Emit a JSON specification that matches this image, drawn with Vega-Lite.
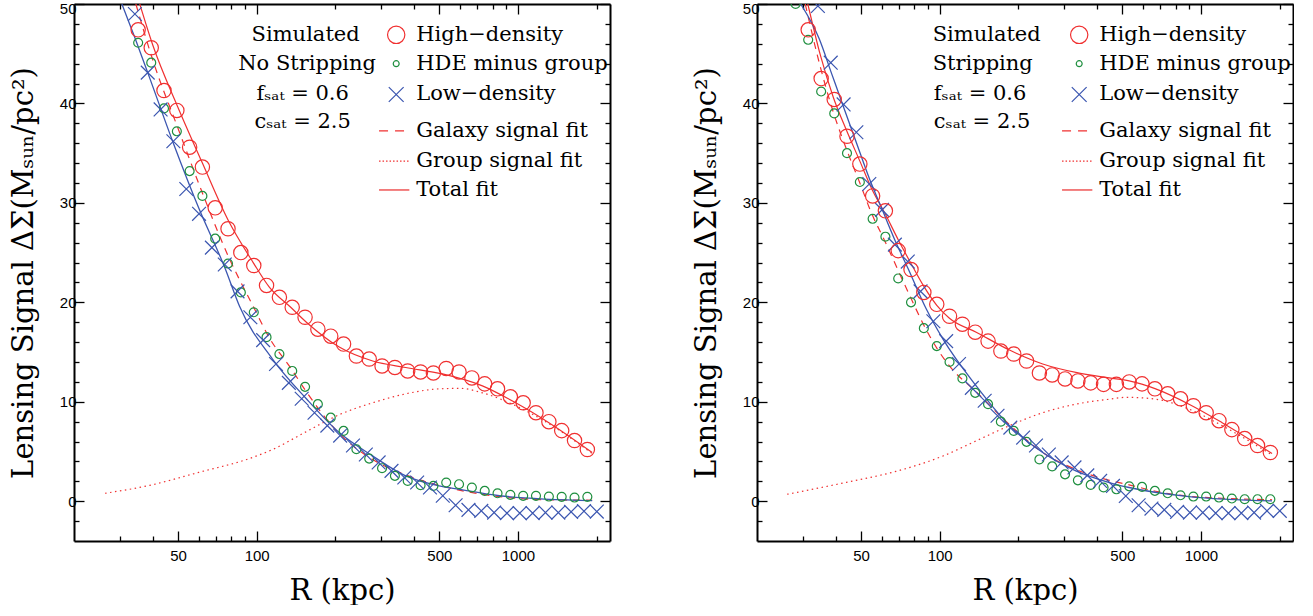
{
"$schema":"https://vega.github.io/schema/vega-lite/v6.json",
"padding":{"left":9,"top":1,"right":0,"bottom":0},
"background":"white",
"spacing":81,
"config":{"view":{"stroke":null},
"axis":{"domainColor":"black","domainWidth":2,"tickColor":"black","tickWidth":1.3,"grid":false,"labelFont":"Liberation Sans","labelFontSize":15,"labelColor":"black","titleFont":"DejaVu Serif","titleFontSize":29,"titleFontWeight":"normal","titleColor":"black","labelOverlap":false,"labelFlush":false,"labelBound":false},
"text":{"font":"DejaVu Serif","fontSize":21,"color":"black"}},
"datasets":{
"a_high":[{"r":35.2,"ds":47.4},{"r":39.5,"ds":45.6},{"r":44.2,"ds":41.3},{"r":49.5,"ds":39.3},{"r":55.4,"ds":35.6},{"r":62.0,"ds":33.6},{"r":69.4,"ds":29.5},{"r":77.7,"ds":27.4},{"r":87.0,"ds":25.0},{"r":97.5,"ds":23.7},{"r":109.1,"ds":21.7},{"r":122.2,"ds":20.5},{"r":136.8,"ds":19.5},{"r":153.2,"ds":18.5},{"r":171.5,"ds":17.3},{"r":192.1,"ds":16.6},{"r":215.1,"ds":15.8},{"r":240.8,"ds":14.6},{"r":269.6,"ds":14.3},{"r":301.9,"ds":13.6},{"r":338.1,"ds":13.45},{"r":378.5,"ds":13.1},{"r":423.9,"ds":13.0},{"r":474.6,"ds":12.9},{"r":531.4,"ds":13.35},{"r":595.0,"ds":13.0},{"r":666.2,"ds":12.4},{"r":745.9,"ds":11.8},{"r":835.2,"ds":11.3},{"r":935.2,"ds":10.5},{"r":1047,"ds":9.9},{"r":1172,"ds":8.9},{"r":1313,"ds":8.0},{"r":1470,"ds":7.1},{"r":1646,"ds":6.1},{"r":1843,"ds":5.2}],
"a_hde":[{"r":35.2,"ds":46.1},{"r":39.5,"ds":44.1},{"r":44.2,"ds":39.5},{"r":49.5,"ds":37.2},{"r":55.4,"ds":33.2},{"r":62.0,"ds":30.7},{"r":69.4,"ds":26.4},{"r":77.7,"ds":23.9},{"r":87.0,"ds":21.0},{"r":97.5,"ds":19.0},{"r":109.1,"ds":16.5},{"r":122.2,"ds":14.8},{"r":136.8,"ds":13.1},{"r":153.2,"ds":11.5},{"r":171.5,"ds":9.76},{"r":192.1,"ds":8.4},{"r":215.1,"ds":7.07},{"r":240.8,"ds":5.23},{"r":269.6,"ds":4.29},{"r":301.9,"ds":3.32},{"r":338.1,"ds":2.55},{"r":378.5,"ds":2.04},{"r":423.9,"ds":1.61},{"r":474.6,"ds":1.54},{"r":531.4,"ds":1.88},{"r":595.0,"ds":1.71},{"r":666.2,"ds":1.38},{"r":745.9,"ds":1.04},{"r":835.2,"ds":0.8},{"r":935.2,"ds":0.64},{"r":1047,"ds":0.54},{"r":1172,"ds":0.54},{"r":1313,"ds":0.47},{"r":1470,"ds":0.44},{"r":1646,"ds":0.37},{"r":1843,"ds":0.44}],
"a_low":[{"r":34.2,"ds":49.0},{"r":38.3,"ds":43.1},{"r":42.9,"ds":39.4},{"r":48.0,"ds":36.2},{"r":53.8,"ds":31.4},{"r":60.2,"ds":28.9},{"r":67.4,"ds":25.5},{"r":75.5,"ds":23.8},{"r":84.5,"ds":21.1},{"r":94.6,"ds":18.5},{"r":105.9,"ds":16.2},{"r":118.6,"ds":13.8},{"r":132.8,"ds":11.9},{"r":148.7,"ds":10.3},{"r":166.5,"ds":8.9},{"r":186.4,"ds":7.6},{"r":208.7,"ds":6.6},{"r":233.7,"ds":5.6},{"r":261.7,"ds":4.7},{"r":293.0,"ds":3.9},{"r":328.1,"ds":3.05},{"r":367.3,"ds":2.38},{"r":411.3,"ds":1.88},{"r":460.5,"ds":1.38},{"r":515.6,"ds":0.55},{"r":577.3,"ds":-0.4},{"r":646.4,"ds":-0.87},{"r":723.8,"ds":-0.97},{"r":810.4,"ds":-1.14},{"r":907.4,"ds":-1.2},{"r":1016,"ds":-1.2},{"r":1138,"ds":-1.2},{"r":1274,"ds":-1.14},{"r":1427,"ds":-1.14},{"r":1597,"ds":-1.07},{"r":1789,"ds":-1.0},{"r":2003,"ds":-1.04}],
"b_high":[{"r":31.4,"ds":47.4},{"r":35.2,"ds":42.5},{"r":39.5,"ds":40.4},{"r":44.2,"ds":36.7},{"r":49.5,"ds":33.9},{"r":55.4,"ds":30.7},{"r":62.0,"ds":29.2},{"r":69.4,"ds":25.2},{"r":77.7,"ds":23.3},{"r":87.0,"ds":21.0},{"r":97.5,"ds":19.8},{"r":109.1,"ds":18.6},{"r":122.2,"ds":17.8},{"r":136.8,"ds":17.0},{"r":153.2,"ds":16.1},{"r":171.5,"ds":15.1},{"r":192.1,"ds":14.8},{"r":215.1,"ds":14.1},{"r":240.8,"ds":12.9},{"r":269.6,"ds":12.7},{"r":301.9,"ds":12.3},{"r":338.1,"ds":12.1},{"r":378.5,"ds":11.9},{"r":423.9,"ds":11.75},{"r":474.6,"ds":11.75},{"r":531.4,"ds":12.0},{"r":595.0,"ds":11.8},{"r":666.2,"ds":11.3},{"r":745.9,"ds":10.8},{"r":835.2,"ds":10.3},{"r":935.2,"ds":9.6},{"r":1047,"ds":8.9},{"r":1172,"ds":8.1},{"r":1313,"ds":7.2},{"r":1470,"ds":6.3},{"r":1646,"ds":5.6},{"r":1843,"ds":4.9}],
"b_hde":[{"r":28.1,"ds":50.0},{"r":31.4,"ds":46.4},{"r":35.2,"ds":41.2},{"r":39.5,"ds":39.0},{"r":44.2,"ds":35.0},{"r":49.5,"ds":32.1},{"r":55.4,"ds":28.4},{"r":62.0,"ds":26.6},{"r":69.4,"ds":22.4},{"r":77.7,"ds":20.0},{"r":87.0,"ds":17.4},{"r":97.5,"ds":15.6},{"r":109.1,"ds":14.0},{"r":122.2,"ds":12.35},{"r":136.8,"ds":10.9},{"r":153.2,"ds":9.76},{"r":171.5,"ds":8.0},{"r":192.1,"ds":7.07},{"r":215.1,"ds":5.97},{"r":240.8,"ds":4.2},{"r":269.6,"ds":3.5},{"r":301.9,"ds":2.7},{"r":338.1,"ds":2.1},{"r":378.5,"ds":1.64},{"r":423.9,"ds":1.38},{"r":474.6,"ds":1.2},{"r":531.4,"ds":1.5},{"r":595.0,"ds":1.44},{"r":666.2,"ds":1.04},{"r":745.9,"ds":0.8},{"r":835.2,"ds":0.6},{"r":935.2,"ds":0.47},{"r":1047,"ds":0.47},{"r":1172,"ds":0.37},{"r":1313,"ds":0.27},{"r":1470,"ds":0.2},{"r":1646,"ds":0.2},{"r":1843,"ds":0.2}],
"b_low":[{"r":34.2,"ds":49.8},{"r":38.3,"ds":44.1},{"r":42.9,"ds":39.9},{"r":48.0,"ds":37.1},{"r":53.8,"ds":31.9},{"r":60.2,"ds":29.3},{"r":67.4,"ds":25.8},{"r":75.5,"ds":24.1},{"r":84.5,"ds":21.1},{"r":94.6,"ds":18.1},{"r":105.9,"ds":16.1},{"r":118.6,"ds":13.8},{"r":132.8,"ds":11.4},{"r":148.7,"ds":10.1},{"r":166.5,"ds":8.6},{"r":186.4,"ds":7.4},{"r":208.7,"ds":6.4},{"r":233.7,"ds":5.6},{"r":261.7,"ds":4.7},{"r":293.0,"ds":3.9},{"r":328.1,"ds":3.4},{"r":367.3,"ds":2.6},{"r":411.3,"ds":2.04},{"r":460.5,"ds":1.54},{"r":515.6,"ds":0.53},{"r":577.3,"ds":-0.4},{"r":646.4,"ds":-0.74},{"r":723.8,"ds":-0.87},{"r":810.4,"ds":-1.07},{"r":907.4,"ds":-1.14},{"r":1016,"ds":-1.14},{"r":1138,"ds":-1.2},{"r":1274,"ds":-1.2},{"r":1427,"ds":-1.2},{"r":1597,"ds":-1.14},{"r":1789,"ds":-0.97},{"r":2003,"ds":-0.97}],
"a_total":[{"r":35.7,"ds":50},{"r":40,"ds":45.9},{"r":50,"ds":39.6},{"r":62,"ds":34.0},{"r":78,"ds":28.2},{"r":97,"ds":24.0},{"r":112,"ds":21.5},{"r":135,"ds":19.5},{"r":155,"ds":18.0},{"r":207,"ds":15.5},{"r":278,"ds":14.1},{"r":372,"ds":13.45},{"r":514,"ds":12.8},{"r":731,"ds":11.6},{"r":980,"ds":9.9},{"r":1313,"ds":7.9},{"r":1923,"ds":4.9}],
"a_galaxy":[{"r":34.5,"ds":50},{"r":40,"ds":44.4},{"r":50,"ds":37.5},{"r":62,"ds":31.0},{"r":78,"ds":24.6},{"r":97,"ds":19.6},{"r":112,"ds":16.4},{"r":135,"ds":13.4},{"r":155,"ds":11.0},{"r":207,"ds":6.8},{"r":278,"ds":4.2},{"r":372,"ds":2.65},{"r":514,"ds":1.5},{"r":731,"ds":0.7},{"r":980,"ds":0.3},{"r":1313,"ds":0.15},{"r":1923,"ds":0.1}],
"a_group":[{"r":26.3,"ds":0.8},{"r":39,"ds":1.6},{"r":60,"ds":2.9},{"r":94,"ds":4.3},{"r":115,"ds":5.2},{"r":155,"ds":7.0},{"r":207,"ds":8.7},{"r":278,"ds":9.9},{"r":372,"ds":10.8},{"r":500,"ds":11.3},{"r":600,"ds":11.35},{"r":731,"ds":10.9},{"r":980,"ds":9.6},{"r":1313,"ds":7.8},{"r":1923,"ds":4.8}],
"a_lowfit":[{"r":30.5,"ds":50},{"r":34.2,"ds":46.6},{"r":38.3,"ds":43.1},{"r":48,"ds":36.0},{"r":60.2,"ds":29.4},{"r":75.5,"ds":23.5},{"r":86,"ds":19.6},{"r":115,"ds":14.3},{"r":155,"ds":10.3},{"r":207,"ds":6.9},{"r":278,"ds":4.55},{"r":372,"ds":2.55},{"r":499,"ds":1.55},{"r":596,"ds":1.2},{"r":850,"ds":0.55},{"r":1923,"ds":0.05}],
"b_total":[{"r":31.3,"ds":50},{"r":35,"ds":44.8},{"r":39.2,"ds":40.6},{"r":44,"ds":37.3},{"r":49.5,"ds":34.2},{"r":55,"ds":31.4},{"r":61.6,"ds":29.0},{"r":69.4,"ds":26.3},{"r":77.7,"ds":23.9},{"r":87,"ds":21.6},{"r":97.5,"ds":19.7},{"r":109,"ds":18.4},{"r":138,"ds":17.0},{"r":185,"ds":15.2},{"r":248,"ds":13.8},{"r":332,"ds":12.95},{"r":446,"ds":12.4},{"r":531,"ds":12.1},{"r":671,"ds":11.3},{"r":900,"ds":9.76},{"r":1205,"ds":7.9},{"r":1871,"ds":4.8}],
"b_galaxy":[{"r":30.6,"ds":50},{"r":35,"ds":43.6},{"r":39.2,"ds":39.1},{"r":44,"ds":35.4},{"r":49.5,"ds":32.0},{"r":55,"ds":28.9},{"r":61.6,"ds":26.2},{"r":69.4,"ds":23.2},{"r":77.7,"ds":20.4},{"r":87,"ds":17.7},{"r":97.5,"ds":15.4},{"r":109,"ds":13.6},{"r":138,"ds":11.0},{"r":185,"ds":7.7},{"r":248,"ds":4.9},{"r":332,"ds":3.2},{"r":446,"ds":2.1},{"r":531,"ds":1.65},{"r":671,"ds":1.0},{"r":900,"ds":0.5},{"r":1205,"ds":0.3},{"r":1871,"ds":0.15}],
"b_group":[{"r":26.1,"ds":0.7},{"r":44,"ds":1.9},{"r":68,"ds":3.0},{"r":103,"ds":4.55},{"r":138,"ds":6.07},{"r":185,"ds":7.6},{"r":248,"ds":8.9},{"r":332,"ds":9.76},{"r":446,"ds":10.26},{"r":520,"ds":10.45},{"r":671,"ds":10.26},{"r":900,"ds":9.26},{"r":1205,"ds":7.6},{"r":1871,"ds":4.65}],
"b_lowfit":[{"r":29.4,"ds":50},{"r":34.6,"ds":46.5},{"r":38.6,"ds":43.0},{"r":42.8,"ds":39.7},{"r":48.1,"ds":36.0},{"r":54.1,"ds":32.3},{"r":59.9,"ds":29.5},{"r":67.3,"ds":26.3},{"r":75.7,"ds":23.4},{"r":89,"ds":19.3},{"r":103,"ds":16.3},{"r":138,"ds":11.6},{"r":185,"ds":7.6},{"r":248,"ds":4.9},{"r":332,"ds":3.05},{"r":446,"ds":1.88},{"r":531,"ds":1.38},{"r":900,"ds":0.47},{"r":1870,"ds":0.03}],
"lg_high":[{"r":342,"ds":46.9}],
"lg_hde":[{"r":342,"ds":44.0}],
"lg_low":[{"r":342,"ds":40.9}],
"lg_galaxy":[{"r":294,"ds":37.25},{"r":384,"ds":37.25}],
"lg_group":[{"r":294,"ds":34.2},{"r":384,"ds":34.2}],
"lg_total":[{"r":294,"ds":31.3},{"r":384,"ds":31.3}],
"lg_text":[{"t":"High−density","r":408,"ds":46.9},{"t":"HDE minus group","r":408,"ds":44.0},{"t":"Low−density","r":408,"ds":40.9},{"t":"Galaxy signal fit","r":408,"ds":37.25},{"t":"Group signal fit","r":408,"ds":34.2},{"t":"Total fit","r":408,"ds":31.3}],
"side_a":[{"t":"Simulated","r":154,"ds":46.9},{"t":"No Stripping","r":156,"ds":44.0},{"t":"fₛₐₜ = 0.6","r":150,"ds":40.9},{"t":"cₛₐₜ = 2.5","r":150,"ds":38.1}],
"side_b":[{"t":"Simulated","r":94,"ds":46.9},{"t":"Stripping","r":94,"ds":44.0},{"t":"fₛₐₜ = 0.6","r":95,"ds":40.9},{"t":"cₛₐₜ = 2.5","r":95,"ds":38.1}]
},
"hconcat":[
{"width":536,"height":537,
"resolve":{"axis":{"x":"independent","y":"independent"}},
"layer":[
{"mark":{"type":"rule","color":"black","strokeWidth":1.5},
"encoding":{"x":{"datum":20,"type":"quantitative","scale":{"type":"log","domain":[20,2250],"nice":false},"axis":{"orient":"bottom","values":[30,40,50,60,70,80,90,100,200,300,400,500,600,700,800,900,1000,2000],"format":"d","labelExpr":"datum.value==50||datum.value==100||datum.value==500||datum.value==1000 ? datum.label : ''","tickSize":{"condition":{"test":"datum.value==50||datum.value==100||datum.value==500||datum.value==1000","value":-10},"value":-5},"labelPadding":17,"title":"R (kpc)","titlePadding":8}},
"x2":{"datum":2250},
"y":{"datum":0,"type":"quantitative","scale":{"domain":[-4,50],"nice":false,"zero":false},"axis":{"orient":"left","values":[-2,0,2,4,6,8,10,12,14,16,18,20,22,24,26,28,30,32,34,36,38,40,42,44,46,48,50],"labelExpr":"datum.value % 10 === 0 ? datum.label : ''","labelOffset":{"condition":{"test":"datum.value === 50","value":4},"value":0},"tickSize":{"condition":{"test":"datum.value % 10 === 0","value":-10},"value":-5},"labelPadding":8,"title":"Lensing Signal ΔΣ(Mₛᵤₙ/pc²)","titlePadding":21}}}},
{"mark":{"type":"rule","color":"black","strokeWidth":1.5},
"encoding":{"x":{"datum":20,"type":"quantitative","scale":{"type":"log","domain":[20,2250],"nice":false},"axis":{"orient":"top","values":[30,40,50,60,70,80,90,100,200,300,400,500,600,700,800,900,1000,2000],"labels":false,"title":null,"tickSize":{"condition":{"test":"datum.value==50||datum.value==100||datum.value==500||datum.value==1000","value":-10},"value":-5}}},
"x2":{"datum":2250},
"y":{"datum":0,"type":"quantitative","scale":{"domain":[-4,50],"nice":false,"zero":false},"axis":{"orient":"right","values":[-2,0,2,4,6,8,10,12,14,16,18,20,22,24,26,28,30,32,34,36,38,40,42,44,46,48,50],"labels":false,"title":null,"tickSize":{"condition":{"test":"datum.value % 10 === 0","value":-10},"value":-5}}}}},
{"data":{"name":"a_group"},"mark":{"type":"line","stroke":"#f03030","strokeWidth":1.2,"strokeDash":[1.5,3.5],"interpolate":"monotone","clip":true},"encoding":{"x":{"field":"r","type":"quantitative","scale":{"type":"log","domain":[20,2250],"nice":false},"axis":null},"y":{"field":"ds","type":"quantitative","scale":{"domain":[-4,50],"nice":false,"zero":false},"axis":null}}},
{"data":{"name":"a_galaxy"},"mark":{"type":"line","stroke":"#f03030","strokeWidth":1.2,"strokeDash":[7,6],"interpolate":"monotone","clip":true},"encoding":{"x":{"field":"r","type":"quantitative","scale":{"type":"log","domain":[20,2250],"nice":false},"axis":null},"y":{"field":"ds","type":"quantitative","scale":{"domain":[-4,50],"nice":false,"zero":false},"axis":null}}},
{"data":{"name":"a_total"},"mark":{"type":"line","stroke":"#f03030","strokeWidth":1.2,"interpolate":"monotone","clip":true},"encoding":{"x":{"field":"r","type":"quantitative","scale":{"type":"log","domain":[20,2250],"nice":false},"axis":null},"y":{"field":"ds","type":"quantitative","scale":{"domain":[-4,50],"nice":false,"zero":false},"axis":null}}},
{"data":{"name":"a_lowfit"},"mark":{"type":"line","stroke":"#3b56b0","strokeWidth":1.3,"interpolate":"monotone","clip":true},"encoding":{"x":{"field":"r","type":"quantitative","scale":{"type":"log","domain":[20,2250],"nice":false},"axis":null},"y":{"field":"ds","type":"quantitative","scale":{"domain":[-4,50],"nice":false,"zero":false},"axis":null}}},
{"data":{"name":"a_hde"},"mark":{"type":"point","shape":"circle","filled":false,"size":80,"stroke":"#1f8f3f","strokeWidth":1.2,"opacity":1,"clip":true},"encoding":{"x":{"field":"r","type":"quantitative","scale":{"type":"log","domain":[20,2250],"nice":false},"axis":null},"y":{"field":"ds","type":"quantitative","scale":{"domain":[-4,50],"nice":false,"zero":false},"axis":null}}},
{"data":{"name":"a_low"},"mark":{"type":"point","shape":"M-1,-1L1,1M-1,1L1,-1","filled":false,"size":190,"stroke":"#3b56b0","strokeWidth":1.2,"opacity":1,"clip":true},"encoding":{"x":{"field":"r","type":"quantitative","scale":{"type":"log","domain":[20,2250],"nice":false},"axis":null},"y":{"field":"ds","type":"quantitative","scale":{"domain":[-4,50],"nice":false,"zero":false},"axis":null}}},
{"data":{"name":"a_high"},"mark":{"type":"point","shape":"circle","filled":false,"size":205,"stroke":"#f03030","strokeWidth":1.2,"opacity":1,"clip":true},"encoding":{"x":{"field":"r","type":"quantitative","scale":{"type":"log","domain":[20,2250],"nice":false},"axis":null},"y":{"field":"ds","type":"quantitative","scale":{"domain":[-4,50],"nice":false,"zero":false},"axis":null}}},
{"data":{"name":"lg_high"},"mark":{"type":"point","shape":"circle","filled":false,"size":300,"stroke":"#f03030","strokeWidth":1.2,"opacity":1},"encoding":{"x":{"field":"r","type":"quantitative","scale":{"type":"log","domain":[20,2250],"nice":false},"axis":null},"y":{"field":"ds","type":"quantitative","scale":{"domain":[-4,50],"nice":false,"zero":false},"axis":null}}},
{"data":{"name":"lg_hde"},"mark":{"type":"point","shape":"circle","filled":false,"size":35,"stroke":"#1f8f3f","strokeWidth":1.2,"opacity":1},"encoding":{"x":{"field":"r","type":"quantitative","scale":{"type":"log","domain":[20,2250],"nice":false},"axis":null},"y":{"field":"ds","type":"quantitative","scale":{"domain":[-4,50],"nice":false,"zero":false},"axis":null}}},
{"data":{"name":"lg_low"},"mark":{"type":"point","shape":"M-1,-1L1,1M-1,1L1,-1","filled":false,"size":220,"stroke":"#3b56b0","strokeWidth":1.2,"opacity":1},"encoding":{"x":{"field":"r","type":"quantitative","scale":{"type":"log","domain":[20,2250],"nice":false},"axis":null},"y":{"field":"ds","type":"quantitative","scale":{"domain":[-4,50],"nice":false,"zero":false},"axis":null}}},
{"data":{"name":"lg_galaxy"},"mark":{"type":"line","stroke":"#f03030","strokeWidth":1.2,"strokeDash":[9,7]},"encoding":{"x":{"field":"r","type":"quantitative","scale":{"type":"log","domain":[20,2250],"nice":false},"axis":null},"y":{"field":"ds","type":"quantitative","scale":{"domain":[-4,50],"nice":false,"zero":false},"axis":null}}},
{"data":{"name":"lg_group"},"mark":{"type":"line","stroke":"#f03030","strokeWidth":1.2,"strokeDash":[1.5,2]},"encoding":{"x":{"field":"r","type":"quantitative","scale":{"type":"log","domain":[20,2250],"nice":false},"axis":null},"y":{"field":"ds","type":"quantitative","scale":{"domain":[-4,50],"nice":false,"zero":false},"axis":null}}},
{"data":{"name":"lg_total"},"mark":{"type":"line","stroke":"#f06060","strokeWidth":1.6},"encoding":{"x":{"field":"r","type":"quantitative","scale":{"type":"log","domain":[20,2250],"nice":false},"axis":null},"y":{"field":"ds","type":"quantitative","scale":{"domain":[-4,50],"nice":false,"zero":false},"axis":null}}},
{"data":{"name":"lg_text"},"mark":{"type":"text","align":"left","baseline":"middle"},"encoding":{"x":{"field":"r","type":"quantitative","scale":{"type":"log","domain":[20,2250],"nice":false},"axis":null},"y":{"field":"ds","type":"quantitative","scale":{"domain":[-4,50],"nice":false,"zero":false},"axis":null},"text":{"field":"t"}}},
{"data":{"name":"side_a"},"mark":{"type":"text","align":"center","baseline":"middle"},"encoding":{"x":{"field":"r","type":"quantitative","scale":{"type":"log","domain":[20,2250],"nice":false},"axis":null},"y":{"field":"ds","type":"quantitative","scale":{"domain":[-4,50],"nice":false,"zero":false},"axis":null},"text":{"field":"t"}}}
]},
{"width":536,"height":537,
"resolve":{"axis":{"x":"independent","y":"independent"}},
"layer":[
{"mark":{"type":"rule","color":"black","strokeWidth":1.5},
"encoding":{"x":{"datum":20,"type":"quantitative","scale":{"type":"log","domain":[20,2250],"nice":false},"axis":{"orient":"bottom","values":[30,40,50,60,70,80,90,100,200,300,400,500,600,700,800,900,1000,2000],"format":"d","labelExpr":"datum.value==50||datum.value==100||datum.value==500||datum.value==1000 ? datum.label : ''","tickSize":{"condition":{"test":"datum.value==50||datum.value==100||datum.value==500||datum.value==1000","value":-10},"value":-5},"labelPadding":17,"title":"R (kpc)","titlePadding":8}},
"x2":{"datum":2250},
"y":{"datum":0,"type":"quantitative","scale":{"domain":[-4,50],"nice":false,"zero":false},"axis":{"orient":"left","values":[-2,0,2,4,6,8,10,12,14,16,18,20,22,24,26,28,30,32,34,36,38,40,42,44,46,48,50],"labelExpr":"datum.value % 10 === 0 ? datum.label : ''","labelOffset":{"condition":{"test":"datum.value === 50","value":4},"value":0},"tickSize":{"condition":{"test":"datum.value % 10 === 0","value":-10},"value":-5},"labelPadding":8,"title":"Lensing Signal ΔΣ(Mₛᵤₙ/pc²)","titlePadding":21}}}},
{"mark":{"type":"rule","color":"black","strokeWidth":1.5},
"encoding":{"x":{"datum":20,"type":"quantitative","scale":{"type":"log","domain":[20,2250],"nice":false},"axis":{"orient":"top","values":[30,40,50,60,70,80,90,100,200,300,400,500,600,700,800,900,1000,2000],"labels":false,"title":null,"tickSize":{"condition":{"test":"datum.value==50||datum.value==100||datum.value==500||datum.value==1000","value":-10},"value":-5}}},
"x2":{"datum":2250},
"y":{"datum":0,"type":"quantitative","scale":{"domain":[-4,50],"nice":false,"zero":false},"axis":{"orient":"right","values":[-2,0,2,4,6,8,10,12,14,16,18,20,22,24,26,28,30,32,34,36,38,40,42,44,46,48,50],"labels":false,"title":null,"tickSize":{"condition":{"test":"datum.value % 10 === 0","value":-10},"value":-5}}}}},
{"data":{"name":"b_group"},"mark":{"type":"line","stroke":"#f03030","strokeWidth":1.2,"strokeDash":[1.5,3.5],"interpolate":"monotone","clip":true},"encoding":{"x":{"field":"r","type":"quantitative","scale":{"type":"log","domain":[20,2250],"nice":false},"axis":null},"y":{"field":"ds","type":"quantitative","scale":{"domain":[-4,50],"nice":false,"zero":false},"axis":null}}},
{"data":{"name":"b_galaxy"},"mark":{"type":"line","stroke":"#f03030","strokeWidth":1.2,"strokeDash":[7,6],"interpolate":"monotone","clip":true},"encoding":{"x":{"field":"r","type":"quantitative","scale":{"type":"log","domain":[20,2250],"nice":false},"axis":null},"y":{"field":"ds","type":"quantitative","scale":{"domain":[-4,50],"nice":false,"zero":false},"axis":null}}},
{"data":{"name":"b_total"},"mark":{"type":"line","stroke":"#f03030","strokeWidth":1.2,"interpolate":"monotone","clip":true},"encoding":{"x":{"field":"r","type":"quantitative","scale":{"type":"log","domain":[20,2250],"nice":false},"axis":null},"y":{"field":"ds","type":"quantitative","scale":{"domain":[-4,50],"nice":false,"zero":false},"axis":null}}},
{"data":{"name":"b_lowfit"},"mark":{"type":"line","stroke":"#3b56b0","strokeWidth":1.3,"interpolate":"monotone","clip":true},"encoding":{"x":{"field":"r","type":"quantitative","scale":{"type":"log","domain":[20,2250],"nice":false},"axis":null},"y":{"field":"ds","type":"quantitative","scale":{"domain":[-4,50],"nice":false,"zero":false},"axis":null}}},
{"data":{"name":"b_hde"},"mark":{"type":"point","shape":"circle","filled":false,"size":80,"stroke":"#1f8f3f","strokeWidth":1.2,"opacity":1,"clip":true},"encoding":{"x":{"field":"r","type":"quantitative","scale":{"type":"log","domain":[20,2250],"nice":false},"axis":null},"y":{"field":"ds","type":"quantitative","scale":{"domain":[-4,50],"nice":false,"zero":false},"axis":null}}},
{"data":{"name":"b_low"},"mark":{"type":"point","shape":"M-1,-1L1,1M-1,1L1,-1","filled":false,"size":190,"stroke":"#3b56b0","strokeWidth":1.2,"opacity":1,"clip":true},"encoding":{"x":{"field":"r","type":"quantitative","scale":{"type":"log","domain":[20,2250],"nice":false},"axis":null},"y":{"field":"ds","type":"quantitative","scale":{"domain":[-4,50],"nice":false,"zero":false},"axis":null}}},
{"data":{"name":"b_high"},"mark":{"type":"point","shape":"circle","filled":false,"size":205,"stroke":"#f03030","strokeWidth":1.2,"opacity":1,"clip":true},"encoding":{"x":{"field":"r","type":"quantitative","scale":{"type":"log","domain":[20,2250],"nice":false},"axis":null},"y":{"field":"ds","type":"quantitative","scale":{"domain":[-4,50],"nice":false,"zero":false},"axis":null}}},
{"data":{"name":"lg_high"},"mark":{"type":"point","shape":"circle","filled":false,"size":300,"stroke":"#f03030","strokeWidth":1.2,"opacity":1},"encoding":{"x":{"field":"r","type":"quantitative","scale":{"type":"log","domain":[20,2250],"nice":false},"axis":null},"y":{"field":"ds","type":"quantitative","scale":{"domain":[-4,50],"nice":false,"zero":false},"axis":null}}},
{"data":{"name":"lg_hde"},"mark":{"type":"point","shape":"circle","filled":false,"size":35,"stroke":"#1f8f3f","strokeWidth":1.2,"opacity":1},"encoding":{"x":{"field":"r","type":"quantitative","scale":{"type":"log","domain":[20,2250],"nice":false},"axis":null},"y":{"field":"ds","type":"quantitative","scale":{"domain":[-4,50],"nice":false,"zero":false},"axis":null}}},
{"data":{"name":"lg_low"},"mark":{"type":"point","shape":"M-1,-1L1,1M-1,1L1,-1","filled":false,"size":220,"stroke":"#3b56b0","strokeWidth":1.2,"opacity":1},"encoding":{"x":{"field":"r","type":"quantitative","scale":{"type":"log","domain":[20,2250],"nice":false},"axis":null},"y":{"field":"ds","type":"quantitative","scale":{"domain":[-4,50],"nice":false,"zero":false},"axis":null}}},
{"data":{"name":"lg_galaxy"},"mark":{"type":"line","stroke":"#f03030","strokeWidth":1.2,"strokeDash":[9,7]},"encoding":{"x":{"field":"r","type":"quantitative","scale":{"type":"log","domain":[20,2250],"nice":false},"axis":null},"y":{"field":"ds","type":"quantitative","scale":{"domain":[-4,50],"nice":false,"zero":false},"axis":null}}},
{"data":{"name":"lg_group"},"mark":{"type":"line","stroke":"#f03030","strokeWidth":1.2,"strokeDash":[1.5,2]},"encoding":{"x":{"field":"r","type":"quantitative","scale":{"type":"log","domain":[20,2250],"nice":false},"axis":null},"y":{"field":"ds","type":"quantitative","scale":{"domain":[-4,50],"nice":false,"zero":false},"axis":null}}},
{"data":{"name":"lg_total"},"mark":{"type":"line","stroke":"#f06060","strokeWidth":1.6},"encoding":{"x":{"field":"r","type":"quantitative","scale":{"type":"log","domain":[20,2250],"nice":false},"axis":null},"y":{"field":"ds","type":"quantitative","scale":{"domain":[-4,50],"nice":false,"zero":false},"axis":null}}},
{"data":{"name":"lg_text"},"mark":{"type":"text","align":"left","baseline":"middle"},"encoding":{"x":{"field":"r","type":"quantitative","scale":{"type":"log","domain":[20,2250],"nice":false},"axis":null},"y":{"field":"ds","type":"quantitative","scale":{"domain":[-4,50],"nice":false,"zero":false},"axis":null},"text":{"field":"t"}}},
{"data":{"name":"side_b"},"mark":{"type":"text","align":"left","baseline":"middle"},"encoding":{"x":{"field":"r","type":"quantitative","scale":{"type":"log","domain":[20,2250],"nice":false},"axis":null},"y":{"field":"ds","type":"quantitative","scale":{"domain":[-4,50],"nice":false,"zero":false},"axis":null},"text":{"field":"t"}}}
]}
]
}
